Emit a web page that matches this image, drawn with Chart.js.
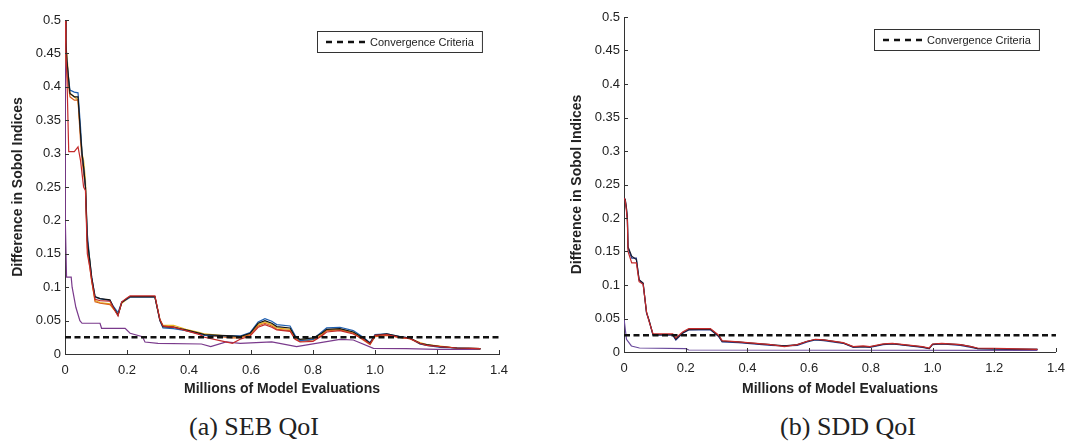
<!DOCTYPE html>
<html>
<head>
<meta charset="utf-8">
<script src="https://cdn.jsdelivr.net/npm/chart.js@4.4.1/dist/chart.umd.min.js"></script>
<style>
  html, body { margin: 0; padding: 0; background: #fff; overflow: hidden; }
  body { width: 1068px; height: 444px; position: relative; }
  .panel { position: absolute; top: 0; height: 400px; }
  #left { left: 0; width: 534px; }
  #right { left: 534px; width: 540px; }
  .caption {
    position: absolute; top: 412px; width: 300px; text-align: center;
    font-family: "Liberation Serif", "DejaVu Serif", serif; font-size: 26px; color: #222;
  }
</style>
</head>
<body>
<div class="panel" id="left"><canvas id="sebChart"></canvas></div>
<div class="panel" id="right"><canvas id="sddChart"></canvas></div>
<div class="caption" style="left:104px">(a) SEB QoI</div>
<div class="caption" style="left:698px">(b) SDD QoI</div>

<script>
const X_TICKS = ['0', '0.2', '0.4', '0.6', '0.8', '1.0', '1.2', '1.4'];
const Y_TICKS = ['0', '0.05', '0.1', '0.15', '0.2', '0.25', '0.3', '0.35', '0.4', '0.45', '0.5'];
const CRITERIA = 0.025;

// (a) SEB QoI - shared evaluation grid (millions)
const sebX = [0, 0.003, 0.006, 0.012, 0.016, 0.03, 0.042, 0.05, 0.055, 0.06,
    0.066, 0.072, 0.08, 0.086, 0.097, 0.113, 0.145, 0.155, 0.171, 0.183,
    0.2, 0.21, 0.29, 0.306, 0.316, 0.35, 0.39, 0.435, 0.45, 0.5,
    0.54, 0.565, 0.597, 0.623, 0.645, 0.667, 0.683, 0.726, 0.742, 0.758,
    0.8, 0.828, 0.844, 0.887, 0.93, 0.962, 0.984, 1.0, 1.038, 1.08,
    1.113, 1.145, 1.167, 1.21, 1.264, 1.34];
const sebBlack = [0.5, 0.47, 0.44, 0.41, 0.39, 0.385, 0.385, 0.33, 0.3, 0.28,
    0.25, 0.17, 0.14, 0.115, 0.086, 0.083, 0.081, 0.071, 0.058, 0.077,
    0.083, 0.086, 0.086, 0.051, 0.041, 0.04, 0.036, 0.031, 0.029, 0.028,
    0.027, 0.026, 0.031, 0.046, 0.05, 0.046, 0.041, 0.039, 0.026, 0.022,
    0.024, 0.031, 0.037, 0.038, 0.033, 0.024, 0.016, 0.028, 0.03, 0.026,
    0.024, 0.016, 0.014, 0.011, 0.009, 0.008];
const sebBlue = [0.5, 0.46, 0.44, 0.41, 0.395, 0.392, 0.391, 0.34, 0.3, 0.28,
    0.25, 0.18, 0.14, 0.115, 0.085, 0.083, 0.08, 0.072, 0.062, 0.078,
    0.082, 0.085, 0.085, 0.05, 0.039, 0.038, 0.035, 0.03, 0.028, 0.027,
    0.027, 0.027, 0.032, 0.048, 0.053, 0.049, 0.044, 0.042, 0.028, 0.02,
    0.022, 0.033, 0.039, 0.04, 0.035, 0.025, 0.017, 0.029, 0.03, 0.026,
    0.024, 0.015, 0.013, 0.01, 0.009, 0.008];
const sebYellow = [0.5, 0.45, 0.45, 0.41, 0.39, 0.385, 0.38, 0.33, 0.3, 0.29,
    0.26, 0.17, 0.14, 0.11, 0.08, 0.077, 0.075, 0.068, 0.06, 0.076,
    0.082, 0.085, 0.085, 0.052, 0.043, 0.043, 0.037, 0.032, 0.03, 0.028,
    0.026, 0.025, 0.03, 0.044, 0.048, 0.044, 0.039, 0.037, 0.026, 0.021,
    0.023, 0.03, 0.036, 0.037, 0.032, 0.023, 0.015, 0.027, 0.029, 0.025,
    0.023, 0.017, 0.014, 0.012, 0.009, 0.008];
const sebOrange = [0.5, 0.44, 0.42, 0.4, 0.385, 0.38, 0.38, 0.32, 0.29, 0.27,
    0.25, 0.16, 0.13, 0.11, 0.078, 0.076, 0.074, 0.069, 0.059, 0.077,
    0.083, 0.086, 0.086, 0.05, 0.041, 0.041, 0.035, 0.03, 0.028, 0.026,
    0.024, 0.024, 0.029, 0.042, 0.046, 0.042, 0.037, 0.035, 0.024, 0.019,
    0.021, 0.028, 0.035, 0.036, 0.031, 0.021, 0.014, 0.026, 0.028, 0.025,
    0.023, 0.015, 0.013, 0.011, 0.009, 0.008];
const sebRed = [0.5, 0.45, 0.42, 0.303, 0.303, 0.303, 0.31, 0.29, 0.27, 0.25,
    0.245, 0.15, 0.13, 0.11, 0.082, 0.08, 0.079, 0.07, 0.057, 0.078,
    0.084, 0.087, 0.087, 0.052, 0.042, 0.04, 0.035, 0.029, 0.025, 0.02,
    0.016, 0.022, 0.027, 0.04, 0.044, 0.04, 0.036, 0.034, 0.022, 0.018,
    0.019, 0.027, 0.033, 0.035, 0.03, 0.022, 0.015, 0.028, 0.029, 0.025,
    0.023, 0.016, 0.013, 0.011, 0.009, 0.008];
const sebPurpleX = [0, 0.001, 0.005, 0.02, 0.023, 0.035, 0.048, 0.055, 0.113, 0.118,
    0.194, 0.21, 0.25, 0.258, 0.3, 0.44, 0.47, 0.52, 0.565, 0.667,
    0.747, 0.887, 0.93, 0.995, 1.1, 1.2, 1.34];
const sebPurple = [0.5, 0.2, 0.115, 0.115, 0.1, 0.07, 0.05, 0.046, 0.046, 0.0385,
    0.0385, 0.031, 0.026, 0.018, 0.016, 0.015, 0.011, 0.018, 0.016, 0.018,
    0.011, 0.022, 0.021, 0.0085, 0.008, 0.007, 0.007];

// (b) SDD QoI
const sddX = [0, 0.004, 0.008, 0.011, 0.013, 0.025, 0.04, 0.049, 0.062, 0.073,
    0.081, 0.094, 0.158, 0.168, 0.19, 0.21, 0.28, 0.307, 0.318, 0.37,
    0.4, 0.476, 0.52, 0.562, 0.594, 0.62, 0.647, 0.71, 0.743, 0.775,
    0.797, 0.84, 0.87, 0.967, 0.989, 1.0, 1.03, 1.09, 1.125, 1.146,
    1.244, 1.34];
const sddBlack = [0.23, 0.228, 0.215, 0.2, 0.157, 0.143, 0.138, 0.108, 0.103, 0.059,
    0.048, 0.026, 0.026, 0.019, 0.0285, 0.0335, 0.034, 0.0235, 0.016, 0.015,
    0.0137, 0.011, 0.009, 0.011, 0.016, 0.0186, 0.018, 0.0137, 0.0077, 0.008,
    0.0077, 0.0116, 0.0125, 0.0077, 0.005, 0.0116, 0.0125, 0.011, 0.008, 0.005,
    0.0045, 0.004];
const sddRed = [0.23, 0.226, 0.21, 0.195, 0.15, 0.133, 0.133, 0.105, 0.101, 0.06,
    0.046, 0.027, 0.027, 0.021, 0.03, 0.035, 0.035, 0.025, 0.017, 0.015,
    0.014, 0.011, 0.008, 0.011, 0.016, 0.019, 0.018, 0.014, 0.008, 0.009,
    0.008, 0.012, 0.013, 0.008, 0.006, 0.012, 0.013, 0.011, 0.008, 0.006,
    0.005, 0.004];
const sddBlue = [0.23, 0.227, 0.213, 0.198, 0.155, 0.14, 0.14, 0.107, 0.102, 0.058,
    0.047, 0.025, 0.025, 0.018, 0.028, 0.033, 0.033, 0.023, 0.015, 0.014,
    0.013, 0.01, 0.009, 0.01, 0.015, 0.018, 0.017, 0.013, 0.007, 0.008,
    0.007, 0.011, 0.012, 0.007, 0.005, 0.011, 0.012, 0.01, 0.007, 0.005,
    0.004, 0.004];
const sddPurpleX = [0, 0.008, 0.024, 0.05, 0.2, 0.21, 1.34];
const sddPurple = [0.05, 0.019, 0.009, 0.006, 0.005, 0.003, 0.0025];

const pts = (xs, ys) => xs.map((x, i) => ({ x: x, y: ys[i] }));
const FONT = '"Liberation Sans", Arial, sans-serif';

function line(label, xs, ys, color) {
    return { label: label, data: pts(xs, ys), borderColor: color, borderWidth: 1.2, pointRadius: 0, tension: 0 };
}

function criteria(xs) {
    return {
        label: 'Convergence Criteria',
        data: xs.map(x => ({ x: x, y: CRITERIA })),
        borderColor: '#111', borderWidth: 2.5, borderDash: [6, 3.5], pointRadius: 0
    };
}

// MATLAB style legend box in the upper right corner
const legendBox = {
    id: 'legendBox',
    afterDatasetsDraw(chart, args, opts) {
        const { ctx, chartArea } = chart;
        const label = chart.data.datasets[0].label;
        ctx.save();
        ctx.font = '11px ' + FONT;
        const w = 53 + ctx.measureText(label).width + 8, h = 21;
        const x = Math.round(chartArea.right - opts.right - w), y = Math.round(chartArea.top + opts.top);
        ctx.fillStyle = '#fff';
        ctx.fillRect(x, y, w, h);
        ctx.strokeStyle = '#333';
        ctx.lineWidth = 1;
        ctx.strokeRect(x + 0.5, y + 0.5, w, h);
        ctx.strokeStyle = '#111';
        ctx.lineWidth = 2.5;
        ctx.setLineDash([6, 5]);
        ctx.beginPath();
        ctx.moveTo(x + 9, y + h / 2 + 0.5);
        ctx.lineTo(x + 48, y + h / 2 + 0.5);
        ctx.stroke();
        ctx.setLineDash([]);
        ctx.fillStyle = '#222';
        ctx.textBaseline = 'middle';
        ctx.fillText(label, x + 53, y + h / 2 + 1);
        ctx.restore();
    }
};

// tick marks pointing into the plot
const innerTicks = {
    id: 'innerTicks',
    afterDraw(chart) {
        const { ctx } = chart;
        const xs = chart.scales.x, ys = chart.scales.y;
        ctx.save();
        ctx.strokeStyle = '#333';
        ctx.lineWidth = 1;
        ctx.beginPath();
        xs.ticks.forEach((t, i) => {
            const px = Math.round(xs.getPixelForTick(i)) + 0.5;
            ctx.moveTo(px, xs.top);
            ctx.lineTo(px, xs.top - 4);
        });
        ys.ticks.forEach((t, i) => {
            const py = Math.round(ys.getPixelForTick(i)) + 0.5;
            ctx.moveTo(ys.right, py);
            ctx.lineTo(ys.right + 4, py);
        });
        ctx.stroke();
        ctx.restore();
    }
};

function makeOptions(pad, yWidth, legendTop) {
    return {
        responsive: true,
        maintainAspectRatio: false,
        animation: false,
        events: [],
        layout: { padding: pad },
        plugins: {
            legend: { display: false },
            tooltip: { enabled: false },
            legendBox: { right: 17, top: legendTop }
        },
        scales: {
            x: {
                type: 'linear', min: 0, max: 1.4,
                afterBuildTicks: s => { s.ticks = X_TICKS.map(t => ({ value: parseFloat(t) })); },
                afterFit: s => { s.height = 400 - pad.bottom - pad.axisY; },
                grid: { display: false, drawTicks: false },
                border: { display: true, color: '#333', width: 1 },
                ticks: { color: '#222', font: { family: FONT, size: 13 }, padding: 9, maxRotation: 0,
                    callback: (v, i) => X_TICKS[i] },
                title: { display: true, text: 'Millions of Model Evaluations', color: '#222',
                    font: { family: FONT, size: 14, weight: 'bold' }, padding: { top: 2, bottom: 2 } }
            },
            y: {
                type: 'linear', min: 0, max: 0.5,
                afterBuildTicks: s => { s.ticks = Y_TICKS.map(t => ({ value: parseFloat(t) })); },
                afterFit: s => { s.width = yWidth; },
                grid: { display: false, drawTicks: false },
                border: { display: true, color: '#333', width: 1 },
                ticks: { color: '#222', font: { family: FONT, size: 13 }, padding: 4,
                    callback: (v, i) => Y_TICKS[i] },
                title: { display: true, text: 'Difference in Sobol Indices', color: '#222',
                    font: { family: FONT, size: 14, weight: 'bold' }, padding: { top: 10, bottom: 0 } }
            }
        }
    };
}

const sebXAll = [0, 1.4];

new Chart(document.getElementById('sebChart'), {
    type: 'line',
    data: {
        datasets: [
            criteria(sebXAll),
            line('Red', sebX, sebRed, '#c42a2a'),
            line('Black', sebX, sebBlack, '#151515'),
            line('Blue', sebX, sebBlue, '#1f5fb0'),
            line('Orange', sebX, sebOrange, '#d9621f'),
            line('Yellow', sebX, sebYellow, '#e8b320'),
            line('Purple', sebPurpleX, sebPurple, '#7a3a8c')
        ]
    },
    options: makeOptions({ left: 0, right: 35, top: 20, bottom: 0, axisY: 354 }, 65, 11),
    plugins: [legendBox, innerTicks]
});

new Chart(document.getElementById('sddChart'), {
    type: 'line',
    data: {
        datasets: [
            criteria(sebXAll),
            line('Red', sddX, sddRed, '#c42a2a'),
            line('Black', sddX, sddBlack, '#1a1a2e'),
            line('Blue', sddX, sddBlue, '#2b3f8f'),
            line('Purple', sddPurpleX, sddPurple, '#6a4a9c')
        ]
    },
    options: makeOptions({ left: 25, right: 12, top: 17, bottom: 0, axisY: 352 }, 65, 12),
    plugins: [legendBox, innerTicks]
});
</script>
</body>
</html>
